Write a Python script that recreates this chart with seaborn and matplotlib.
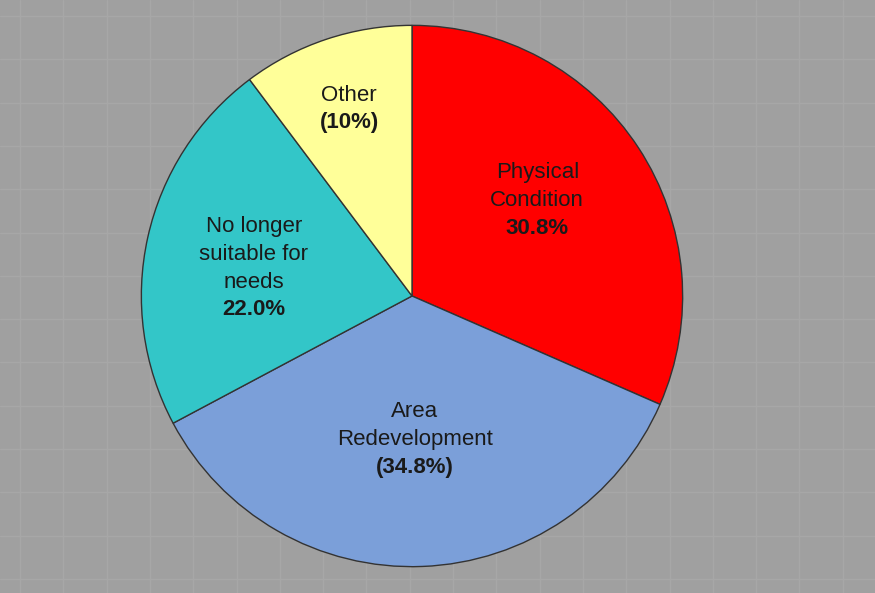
import matplotlib
matplotlib.use("Agg")
import matplotlib.pyplot as plt
import seaborn as sns
import numpy as np

categories = ["Physical\nCondition", "Area\nRedevelopment", "No longer\nsuitable for\nneeds", "Other"]
pct_labels = ["30.8%", "(34.8%)", "22.0%", "(10%)"]
values = [30.8, 34.8, 22.0, 10.0]
colors = ["#ff0000", "#7b9fd9", "#33c6c8", "#ffff99"]

sns.set_theme(style="white")
plt.rcParams['font.family'] = ['Liberation Sans', 'DejaVu Sans']

fig = plt.figure(figsize=(8.75, 5.93), dpi=100)
bg = "#a0a0a0"
fig.patch.set_facecolor(bg)

# background faint grid
axbg = fig.add_axes([0, 0, 1, 1])
axbg.set_facecolor(bg)
axbg.set_xlim(0, 875)
axbg.set_ylim(593, 0)
for x in np.arange(20, 875, 43.3):
    axbg.axvline(x, color="#a7a7a7", lw=1.0, zorder=0)
for y in np.arange(16, 593, 43.3):
    axbg.axhline(y, color="#a7a7a7", lw=1.0, zorder=0)
axbg.set_axis_off()

cx, cy, r = 412, 296, 272
W, H = 875, 593
ax = fig.add_axes([(cx - r) / W, (H - cy - r) / H, 2 * r / W, 2 * r / H])
ax.set_facecolor("none")
wedges, _ = ax.pie(values, colors=colors, startangle=90, counterclock=False,
                   wedgeprops=dict(edgecolor="#333333", linewidth=1.0))
ax.set_xlim(-1.005, 1.005)
ax.set_ylim(-1.005, 1.005)

label_pos = [(0.463, 0.353), (0.011, -0.529), (-0.585, 0.103), (-0.232, 0.691)]
fs = 16
lh = 0.103
for cat, pct, (x, y) in zip(categories, pct_labels, label_pos):
    lines = cat.split("\n")
    n = len(lines) + 1
    top = y + (n - 1) * lh / 2
    for i, ln in enumerate(lines):
        ax.text(x, top - i * lh, ln, ha="center", va="center", fontsize=fs, color="#1a1a1a")
    ax.text(x, top - len(lines) * lh, pct, ha="center", va="center", fontsize=fs,
            fontweight="bold", color="#1a1a1a")

fig.savefig("out.png", dpi=100, facecolor=bg)
